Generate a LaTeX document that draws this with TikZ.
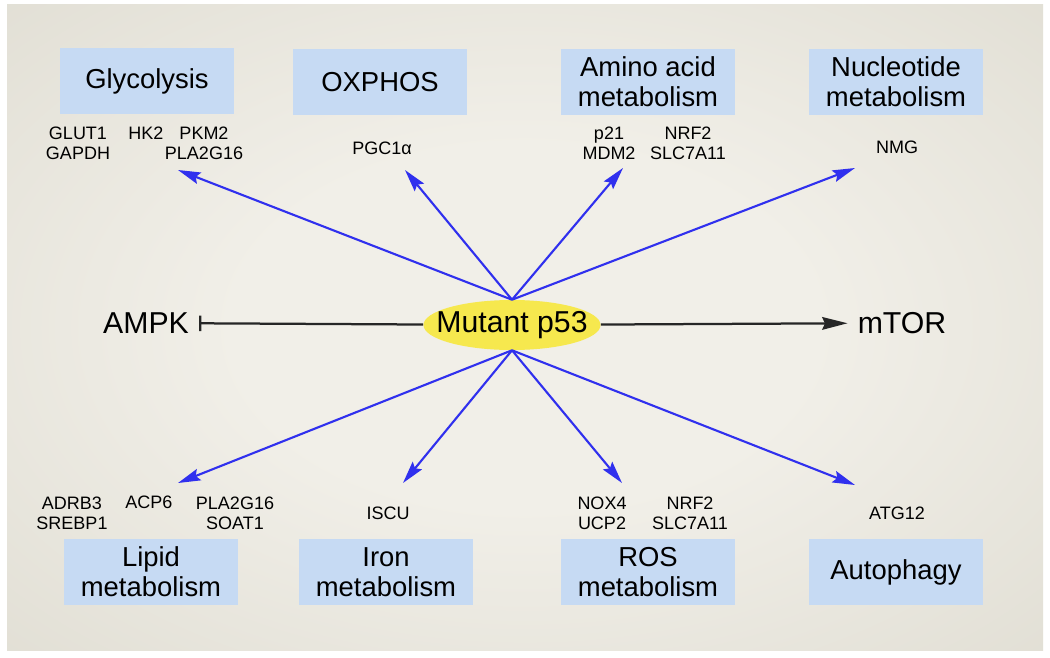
\documentclass[tikz,border=0pt]{standalone}
\usepackage{fontspec}
\setmainfont{Liberation Sans}
\usepackage{tikz}
\usetikzlibrary{arrows.meta,shapes.geometric}
\definecolor{panelin}{HTML}{F1EFE8}
\definecolor{panelout}{HTML}{D8D5C9}
\definecolor{boxblue}{HTML}{C6DAF3}
\definecolor{pyellow}{HTML}{F6E84E}
\definecolor{arrowblue}{HTML}{3030EE}
\pgfdeclareradialshading{panel}{\pgfpoint{0bp}{0bp}}{color(0bp)=(panelin); color(14bp)=(panelin); color(50bp)=(panelout)}

\begin{document}
\begin{tikzpicture}[x=0.025cm,y=-0.025cm,
	pathway/.style={fill=boxblue,minimum width=4.325cm,minimum height=1.65cm,inner sep=0pt,align=center,font=\fontsize{19.5}{21.3}\selectfont},
	gene/.style={align=center,inner sep=0pt,font=\fontsize{12.8}{14.2}\selectfont},
	kinase/.style={inner xsep=0.25cm,inner ysep=0pt,font=\fontsize{21.5}{24}\selectfont},
	effect/.style={draw=arrowblue,line width=1.5pt,-{Stealth[length=16pt,width=8.5pt,inset=2.5pt]}}]
				\fill [white] (0,0) rectangle (1050,657);
				\shade [shading=panel] (7,5) rectangle (1043,650);
				\useasboundingbox (0,0) rectangle (1050,657);
				\draw (147,81) node [pathway] (glyc) {Glycolysis};
				\draw (380,82) node [pathway] (oxphos) {OXPHOS};
				\draw (648,82) node [pathway] (amino) {Amino acid\\metabolism};
				\draw (896,82) node [pathway] (nucl) {Nucleotide\\metabolism};
				\draw (151,572) node [pathway] (lipid) {Lipid\\metabolism};
				\draw (386,572) node [pathway] (iron) {Iron\\metabolism};
				\draw (648,572) node [pathway] (ros) {ROS\\metabolism};
				\draw (896,572) node [pathway] (autoph) {Autophagy};
				\draw (78,143) node [gene] (glut) {GLUT1\\GAPDH};
				\draw (146,133) node [gene] (hk) {HK2};
				\draw (204,143) node [gene] (pkm) {PKM2\\PLA2G16};
				\draw (382,148) node [gene] (pgc) {PGC1α};
				\draw (609,143) node [gene] (pdm) {p21\\MDM2};
				\draw (688,143) node [gene] (nrfup) {NRF2\\SLC7A11};
				\draw (897,147) node [gene] (nmg) {NMG};
				\draw (72,513) node [gene] (adrb) {ADRB3\\SREBP1};
				\draw (149,502) node [gene] (acp) {ACP6};
				\draw (235,513) node [gene] (pla) {PLA2G16\\SOAT1};
				\draw (388,513) node [gene] (iscu) {ISCU};
				\draw (602,513) node [gene] (nox) {NOX4\\UCP2};
				\draw (690,513) node [gene] (nrfdown) {NRF2\\SLC7A11};
				\draw (897,513) node [gene] (atg) {ATG12};
				\draw (512,325) node [ellipse, fill=pyellow, minimum width=4.425cm, minimum height=1.25cm, inner sep=0pt, font=\fontsize{21.5}{24}\selectfont] (p53) {\makebox[0pt]{Mutant p53}};
				\draw (146,323) node [kinase] (ampk) {AMPK};
				\draw (902,323) node [kinase] (mtor) {mTOR};
				\coordinate (glyc tip) at (178,170);
				\coordinate (oxphos tip) at (405,170);
				\coordinate (amino tip) at (623,168);
				\coordinate (nucl tip) at (855,168);
				\coordinate (lipid tip) at (178,483);
				\coordinate (iron tip) at (403,483);
				\coordinate (ros tip) at (622,483);
				\coordinate (autoph tip) at (855,485);
				\draw [line width=1.6pt, draw=black!85, -{Bar[width=11pt]}] (p53) -- (ampk);
				\draw [line width=1.6pt, draw=black!85, -{Stealth[length=18pt,width=9pt,inset=2pt]}] (p53) -- (mtor);
				\draw [effect] (p53.north) -- (glyc tip);
				\draw [effect] (p53.north) -- (oxphos tip);
				\draw [effect] (p53.north) -- (amino tip);
				\draw [effect] (p53.north) -- (nucl tip);
				\draw [effect] (p53.south) -- (lipid tip);
				\draw [effect] (p53.south) -- (iron tip);
				\draw [effect] (p53.south) -- (ros tip);
				\draw [effect] (p53.south) -- (autoph tip);
\end{tikzpicture}
\end{document}
